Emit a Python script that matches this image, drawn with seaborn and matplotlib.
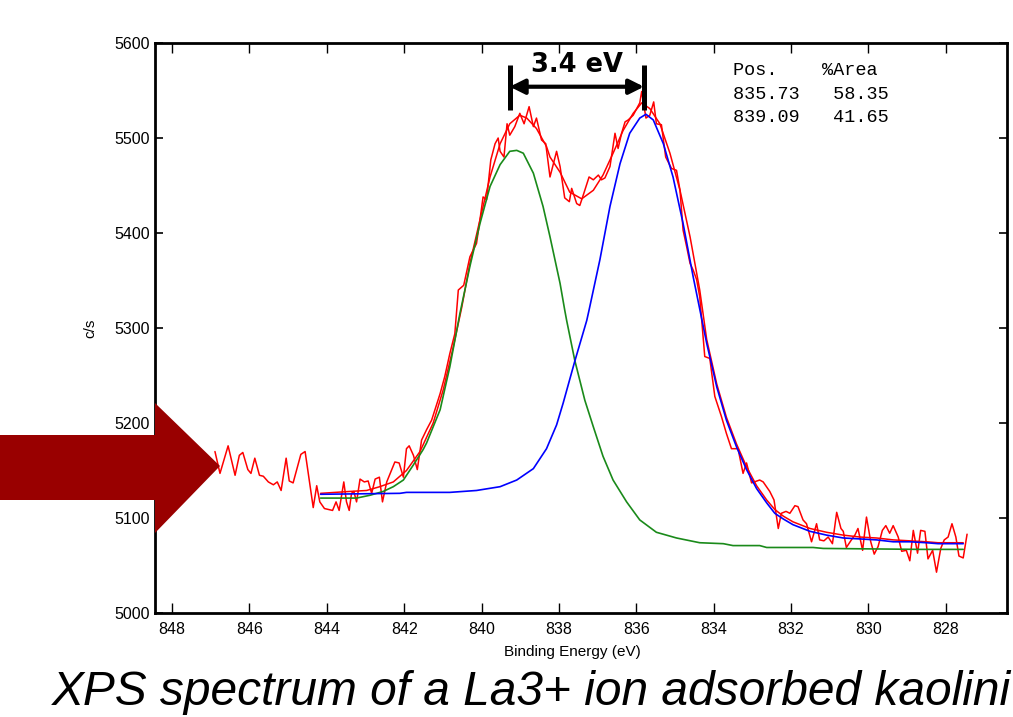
import numpy as np
import matplotlib
matplotlib.use('Agg')
import matplotlib.pyplot as plt
import seaborn as sns
from matplotlib.patches import Polygon

sns.set_style('ticks')
plt.rcParams['font.family'] = ['Liberation Sans Narrow', 'Liberation Sans', 'DejaVu Sans']
plt.rcParams.update({'text.color': 'black', 'axes.labelcolor': 'black',
                     'xtick.color': 'black', 'ytick.color': 'black',
                     'axes.edgecolor': 'black'})

# ---- raw spectrum ----
raw_be = [846.89, 846.76, 846.55, 846.37, 846.26, 846.17, 846.04, 845.96, 845.86, 845.74,
          845.64, 845.51, 845.38, 845.28, 845.18, 845.05, 844.97, 844.87, 844.67, 844.56,
          844.35, 844.26, 844.18, 844.06, 843.96, 843.85, 843.76, 843.68, 843.56, 843.49,
          843.42, 843.36, 843.30, 843.23, 843.14, 843.03, 842.93, 842.84, 842.75, 842.64,
          842.56, 842.45, 842.24, 842.13, 842.02, 841.94, 841.87, 841.76, 841.66, 841.55,
          841.42, 841.29, 841.07, 840.95, 840.82, 840.69, 840.60, 840.46, 840.30, 840.13,
          840.04, 839.96, 839.87, 839.76, 839.65, 839.57, 839.52, 839.42, 839.34, 839.27,
          839.14, 839.01, 838.90, 838.77, 838.66, 838.58, 838.45, 838.34, 838.23, 838.06,
          837.97, 837.85, 837.73, 837.67, 837.54, 837.46, 837.37, 837.22, 837.11, 836.98,
          836.90, 836.81, 836.68, 836.55, 836.47, 836.38, 836.29, 836.21, 836.08, 835.91,
          835.86, 835.75, 835.65, 835.55, 835.48, 835.35, 835.24, 835.09, 834.96, 834.87,
          834.79, 834.70, 834.61, 834.53, 834.44, 834.36, 834.23, 834.10, 833.97, 833.80,
          833.67, 833.54, 833.37, 833.24, 833.15, 833.02, 832.81, 832.72, 832.55, 832.44,
          832.33, 832.25, 832.13, 832.03, 831.90, 831.82, 831.69, 831.60, 831.47, 831.34,
          831.26, 831.15, 831.04, 830.93, 830.82, 830.71, 830.65, 830.57, 830.44, 830.35,
          830.27, 830.15, 830.05, 829.94, 829.85, 829.75, 829.64, 829.55, 829.45, 829.36,
          829.23, 829.14, 829.02, 828.93, 828.84, 828.73, 828.65, 828.54, 828.46, 828.34,
          828.24, 828.13, 828.04, 827.94, 827.84, 827.74, 827.66, 827.55, 827.45]
raw_cps = [5170, 5147, 5176, 5145, 5166, 5169, 5151, 5147, 5163, 5145,
           5144, 5138, 5135, 5138, 5129, 5163, 5139, 5137, 5167, 5170,
           5111, 5134, 5117, 5110, 5109, 5108, 5117, 5108, 5138, 5117,
           5108, 5126, 5128, 5117, 5141, 5138, 5139, 5126, 5141, 5143,
           5117, 5138, 5159, 5158, 5143, 5173, 5176, 5166, 5151, 5182,
           5193, 5203, 5231, 5249, 5273, 5294, 5340, 5345, 5375, 5389,
           5414, 5438, 5435, 5477, 5494, 5500, 5486, 5480, 5515, 5503,
           5512, 5526, 5515, 5533, 5512, 5521, 5498, 5494, 5459, 5486,
           5470, 5437, 5433, 5447, 5431, 5429, 5440, 5459, 5456, 5461,
           5456, 5458, 5470, 5505, 5489, 5505, 5517, 5519, 5524, 5537,
           5549, 5521, 5524, 5538, 5515, 5514, 5480, 5468, 5466, 5445,
           5403, 5386, 5368, 5361, 5351, 5333, 5270, 5268, 5228, 5207,
           5189, 5173, 5173, 5147, 5158, 5137, 5140, 5138, 5128, 5119,
           5089, 5105, 5107, 5105, 5113, 5112, 5098, 5094, 5075, 5094,
           5077, 5076, 5080, 5073, 5106, 5089, 5086, 5069, 5077, 5082,
           5089, 5066, 5101, 5075, 5062, 5070, 5087, 5092, 5084, 5092,
           5080, 5065, 5066, 5055, 5087, 5063, 5087, 5086, 5057, 5066,
           5043, 5068, 5077, 5080, 5094, 5080, 5060, 5058, 5083]

# ---- fitted envelope ----
env_be = [844.16, 843.40, 842.97, 842.63, 842.28, 841.94, 841.59, 841.25, 840.99, 840.73,
          840.51, 840.30, 840.04, 839.78, 839.52, 839.27, 839.01, 838.83, 838.58, 838.32,
          838.23, 837.97, 837.72, 837.41, 837.11, 836.86, 836.60, 836.34, 836.08, 835.86,
          835.65, 835.39, 835.13, 834.87, 834.61, 834.36, 834.18, 833.92, 833.67, 833.41,
          833.15, 832.89, 832.63, 832.42, 832.20, 831.95, 831.51, 831.08, 830.65, 830.22,
          829.79, 829.36, 828.93, 828.50, 828.20, 827.55]
env_cps = [5126, 5128, 5129, 5133, 5138, 5150, 5170, 5200, 5235, 5280,
           5322, 5368, 5414, 5459, 5494, 5515, 5524, 5521, 5510, 5491,
           5480, 5464, 5443, 5436, 5445, 5461, 5484, 5508, 5526, 5537,
           5531, 5515, 5484, 5445, 5396, 5340, 5288, 5241, 5206, 5178,
           5154, 5134, 5119, 5109, 5102, 5096, 5089, 5085, 5082, 5080,
           5079, 5077, 5076, 5075, 5074, 5074]

# ---- component at 835.73 eV (blue) ----
blue_be = [844.16, 842.11, 841.94, 840.82, 840.13, 839.52, 839.09, 838.66, 838.32, 838.06,
           837.89, 837.59, 837.28, 837.22, 836.94, 836.68, 836.42, 836.17, 835.91, 835.75,
           835.56, 835.30, 835.05, 834.79, 834.53, 834.40, 834.18, 833.92, 833.67, 833.41,
           833.15, 832.89, 832.63, 832.42, 832.20, 831.95, 831.51, 831.08, 830.65, 830.22,
           829.79, 829.36, 828.93, 828.50, 828.20, 827.55]
blue_cps = [5125, 5126, 5127, 5127, 5129, 5133, 5140, 5152, 5173, 5198,
            5221, 5265, 5308, 5319, 5372, 5428, 5473, 5505, 5521, 5525,
            5519, 5494, 5459, 5410, 5354, 5328, 5284, 5238, 5203, 5175,
            5151, 5131, 5116, 5105, 5099, 5093, 5086, 5082, 5079, 5078,
            5077, 5075, 5075, 5074, 5073, 5073]

# ---- component at 839.09 eV (green) ----
green_be = [844.16, 843.23, 842.88, 842.54, 842.28, 842.02, 841.76, 841.51, 841.42, 841.25,
            841.07, 840.82, 840.56, 840.30, 840.04, 839.78, 839.52, 839.27, 839.09, 838.92,
            838.66, 838.41, 838.23, 837.97, 837.85, 837.80, 837.59, 837.33, 837.11, 836.86,
            836.60, 836.25, 835.91, 835.48, 834.96, 834.36, 833.75, 833.50, 832.81, 832.63,
            831.43, 831.17, 828.67, 827.55]
green_cps = [5121, 5121, 5124, 5128, 5133, 5140, 5156, 5172, 5179, 5196,
             5214, 5259, 5315, 5365, 5410, 5449, 5472, 5486, 5487, 5484,
             5463, 5428, 5396, 5347, 5319, 5308, 5266, 5224, 5196, 5165,
             5140, 5117, 5098, 5085, 5079, 5074, 5073, 5071, 5071, 5069,
             5069, 5068, 5067, 5067]

# ---- peak table ----
peak_pos = [835.73, 839.09]
peak_area = [58.35, 41.65]
split_label = '3.4 eV'
split_left, split_right, split_level = 839.27, 835.80, 5554
caption = 'XPS spectrum of a La3+ ion adsorbed kaolini'

fig = plt.figure(figsize=(10.13, 7.17), dpi=100)
ax = fig.add_axes([0.153, 0.145, 0.841, 0.795])

sns.lineplot(x=raw_be, y=raw_cps, ax=ax, color='#ff0000', lw=1.1, sort=False, estimator=None)
sns.lineplot(x=env_be, y=env_cps, ax=ax, color='#ff0000', lw=1.1, sort=False, estimator=None)
sns.lineplot(x=green_be, y=green_cps, ax=ax, color='#1a8a1a', lw=1.2, sort=False, estimator=None)
sns.lineplot(x=blue_be, y=blue_cps, ax=ax, color='#0000ff', lw=1.2, sort=False, estimator=None)

ax.set_xlim(848.44, 826.42)
ax.set_ylim(5000, 5600)
ax.set_xticks(np.arange(848, 827, -2))
ax.set_yticks(np.arange(5000, 5601, 100))
ax.tick_params(axis='x', direction='in', top=True, length=7, width=1, pad=6.5, labelsize=11.5)
ax.tick_params(axis='y', direction='in', right=True, length=6, width=1.2, pad=3.5, labelsize=11.5)
for sp in ax.spines.values():
    sp.set_visible(True)
    sp.set_linewidth(2)
    sp.set_color('black')

ax.set_xlabel('Binding Energy (eV)', fontsize=11)
ax.set_ylabel('c/s', fontsize=11)
ax.xaxis.set_label_coords(0.49, -0.056)
ax.yaxis.set_label_coords(-0.068, 0.5)

# splitting marker
for xb in (split_left, split_right):
    ax.plot([xb, xb], [5529, 5577], color='k', lw=3.6, solid_capstyle='butt')
ax.annotate('', xy=(split_right, split_level), xytext=(split_left, split_level),
            arrowprops=dict(arrowstyle='<|-|>', color='k', lw=3, mutation_scale=22,
                            shrinkA=0, shrinkB=0))
ax.text((split_left + split_right) / 2, 5569, split_label,
        ha='center', va='baseline', fontsize=18.5, fontweight='bold', family='DejaVu Sans')

# peak table
mono = 'Liberation Mono'
ax.text(0.678, 0.951, 'Pos.    %Area', transform=ax.transAxes, family=mono, fontsize=13.3, va='center')
for i, (p, a) in enumerate(zip(peak_pos, peak_area)):
    ax.text(0.678, 0.9105 - 0.0405 * i, '%.2f   %.2f' % (p, a), transform=ax.transAxes,
            family=mono, fontsize=13.3, va='center')

# big pointer arrow on the left
W, H = 1013, 717
arrow_px = [(0, 435), (155, 435), (155, 403), (220, 466), (155, 533), (155, 500), (0, 500)]
fig.patches.append(Polygon([(x / W, 1 - y / H) for x, y in arrow_px], closed=True,
                           transform=fig.transFigure, facecolor='#990000', edgecolor='none',
                           zorder=10))

fig.text(52 / W, 1 - 705 / H, caption, fontsize=34.5,
         style='italic', family=['Liberation Sans', 'DejaVu Sans'], va='baseline', ha='left')

fig.savefig('out.png', dpi=100)
